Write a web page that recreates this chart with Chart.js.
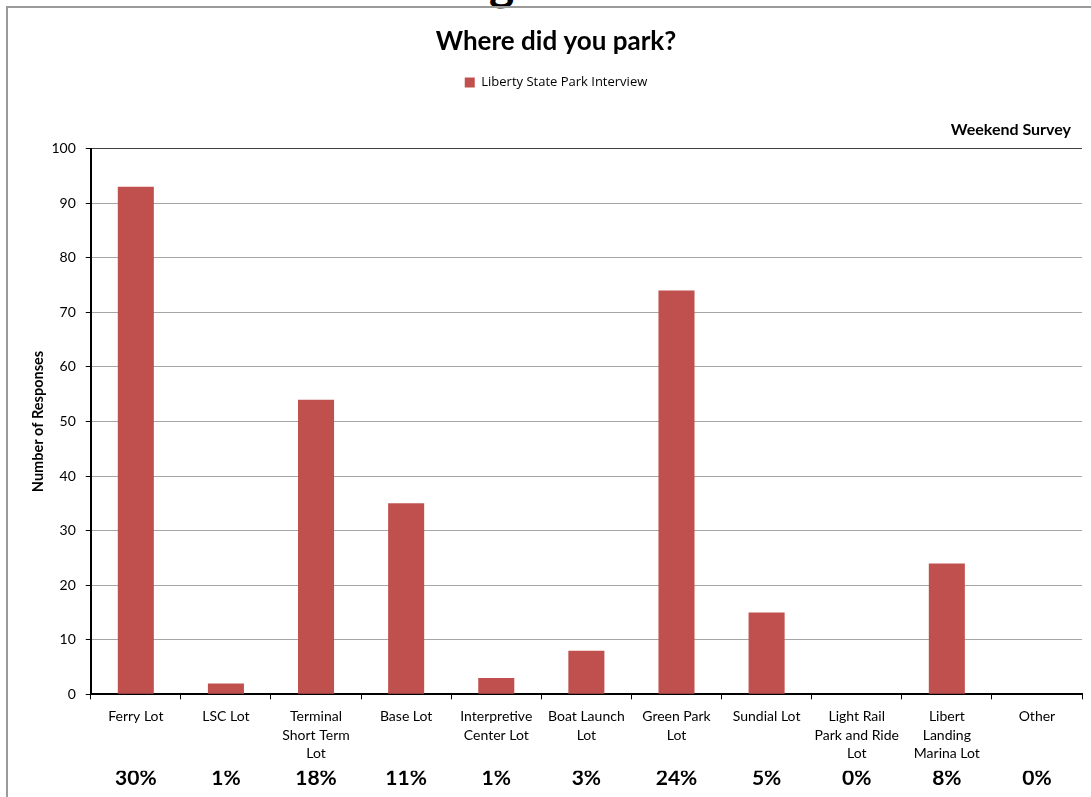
<!DOCTYPE html>
<html>
<head>
<meta charset="utf-8">
<script src="https://cdn.jsdelivr.net/npm/chart.js@4.4.1/dist/chart.umd.min.js"></script>
<style>
  html, body { margin: 0; padding: 0; background: #fff; overflow: hidden; }
  #wrap { position: relative; width: 1091px; height: 797px; }
  #frame { position: absolute; left: 6px; top: 6px; width: 1200px; height: 900px;
           border-left: 2px solid #9a9a9a; border-top: 2px solid #9a9a9a; pointer-events: none; }
  #cut { position: absolute; left: 489px; top: -42px; font: bold 48px Lato, sans-serif; line-height: 48px; color: #000; }
  canvas { position: absolute; left: 0; top: 0; }
</style>
</head>
<body>
<div id="wrap">
  <div id="cut">g</div>
  <canvas id="c" width="1091" height="797"></canvas>
  <div id="frame"></div>
</div>
<script>
const categories = [
  'Ferry Lot', 'LSC Lot', ['Terminal', 'Short Term', 'Lot'], 'Base Lot',
  ['Interpretive', 'Center Lot'], ['Boat Launch', 'Lot'], ['Green Park', 'Lot'],
  'Sundial Lot', ['Light Rail', 'Park and Ride', 'Lot'], ['Libert', 'Landing', 'Marina Lot'], 'Other'
];
const responses = [93, 2, 54, 35, 3, 8, 74, 15, 0, 24, 0];
const percentLabels = ['30%', '1%', '18%', '11%', '1%', '3%', '24%', '5%', '0%', '8%', '0%'];
const yTicks = [0, 10, 20, 30, 40, 50, 60, 70, 80, 90, 100];
const seriesName = 'Liberty State Park Interview';
const chartTitle = 'Where did you park?';
const subTitle = 'Weekend Survey';
const yTitle = 'Number of Responses';

const FONT = 'Lato, "Open Sans", sans-serif';

// Pull the subtitle's right edge in from the plot's right border
const subtitleInset = {
  id: 'subtitleInset',
  afterLayout(chart) {
    chart.boxes.forEach(b => {
      if (b.options && b.options.text === subTitle && b.right !== undefined) {
        b.right = chart.chartArea.right - 11;
      }
    });
  }
};

new Chart(document.getElementById('c'), {
  type: 'bar',
  plugins: [subtitleInset],
  data: {
    labels: categories,
    datasets: [{
      label: seriesName,
      data: responses,
      backgroundColor: '#C0504D',
      borderWidth: 0,
      barPercentage: 0.4,
      categoryPercentage: 1.0,
      xAxisID: 'x',
      yAxisID: 'y'
    }]
  },
  options: {
    responsive: false,
    animation: false,
    devicePixelRatio: 1,
    layout: { padding: { left: 30, right: 9, top: 0, bottom: 11.4 } },
    plugins: {
      tooltip: { enabled: false },
      title: {
        display: true, text: chartTitle, color: '#000',
        font: { family: FONT, size: 26, weight: 'bold', lineHeight: 1.2 },
        padding: { top: 26.4, bottom: 8.4 }
      },
      subtitle: {
        display: true, text: subTitle, color: '#000', align: 'end', weight: 500,
        font: { family: FONT, size: 16, weight: 'bold', lineHeight: 1.2 },
        padding: { top: 21, bottom: 9.4 }
      },
      legend: {
        display: true, position: 'top',
        labels: {
          color: '#000', boxWidth: 10, boxHeight: 10, padding: 10,
          font: { family: '"Open Sans", sans-serif', size: 13 }
        }
      }
    },
    scales: {
      x: {
        type: 'category',
        position: 'bottom',
        offset: true,
        grid: {
          offset: true,
          drawOnChartArea: true,
          color: (ctx) => (ctx.index === categories.length ? '#404040' : 'rgba(0,0,0,0)'),
          tickColor: '#000',
          tickLength: 5,
          lineWidth: 1
        },
        border: { display: true, color: '#000', width: 2 },
        ticks: {
          color: '#000', autoSkip: false, maxRotation: 0, minRotation: 0, padding: 8,
          font: { family: FONT, size: 14, lineHeight: 1.32 }
        }
      },
      x2: {
        type: 'category',
        position: 'bottom',
        labels: percentLabels,
        offset: true,
        grid: { display: false, drawTicks: false },
        border: { display: false },
        ticks: {
          color: '#000', autoSkip: false, maxRotation: 0, minRotation: 0, padding: -1,
          font: { family: FONT, size: 21, weight: 'bold', lineHeight: 0.8 }
        }
      },
      y: {
        min: 0, max: 100,
        afterBuildTicks: (axis) => { axis.ticks = yTicks.map(v => ({ value: v })); },
        grid: {
          color: (ctx) => (ctx.tick && ctx.tick.value === 100 ? '#404040' : '#a6a6a6'),
          tickColor: '#000', tickLength: 5, lineWidth: 1
        },
        border: { display: true, color: '#000', width: 2 },
        title: {
          display: true, text: yTitle, color: '#000',
          font: { family: FONT, size: 14.5, weight: 'bold', lineHeight: 1.2 }, padding: { top: 0, bottom: -6 }
        },
        ticks: { color: '#000', padding: 10, font: { family: FONT, size: 14 } }
      }
    }
  }
});
</script>
</body>
</html>
